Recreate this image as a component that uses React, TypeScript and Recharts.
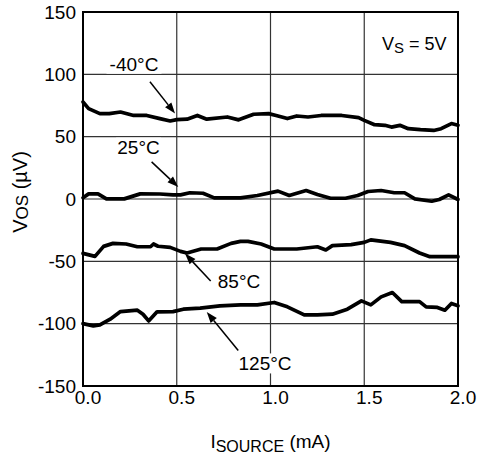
import React from "react";
import { LineChart, Line, XAxis, YAxis, CartesianGrid, ReferenceArea, ReferenceDot, ReferenceLine } from "recharts";

// I_SOURCE (mA) and V_OS (µV) for each temperature
const isrcNeg40 = [0, 0.03, 0.09, 0.14, 0.2, 0.27, 0.34, 0.41, 0.465, 0.5, 0.555, 0.61, 0.66, 0.77, 0.83, 0.91, 0.99, 1.03, 1.09, 1.14, 1.2, 1.27, 1.38, 1.47, 1.5, 1.555, 1.61, 1.645, 1.69, 1.735, 1.8, 1.87, 1.91, 1.965, 2.0];
const vosNeg40 = [77.8, 72.5, 68.5, 68.5, 69.8, 67, 67, 64.5, 62.6, 63.7, 64, 67, 64, 65.8, 63.5, 68, 68.5, 67, 64.5, 66.6, 65.8, 67, 67, 65.3, 63.1, 59.6, 59.1, 57.7, 59.1, 56.4, 55.6, 55, 56.4, 60.5, 59.1];

const isrc25 = [0, 0.03, 0.08, 0.125, 0.22, 0.305, 0.41, 0.48, 0.52, 0.57, 0.64, 0.7, 0.84, 0.93, 1.04, 1.1, 1.19, 1.25, 1.32, 1.4, 1.465, 1.52, 1.59, 1.66, 1.715, 1.77, 1.86, 1.9, 1.95, 2.0];
const vos25 = [1, 4.1, 4.1, 0.1, 0.1, 4.1, 4, 3.3, 3.3, 5, 4.6, 0.9, 0.9, 2.8, 6.3, 2.8, 6.8, 3.6, 0.6, 0.6, 2.8, 6, 6.8, 5, 5, 0.1, -1.8, -0.4, 3.3, -0.4];

const isrc85 = [0, 0.064, 0.11, 0.16, 0.23, 0.29, 0.36, 0.376, 0.4, 0.465, 0.52, 0.555, 0.63, 0.715, 0.79, 0.84, 0.88, 0.95, 1.02, 1.14, 1.25, 1.295, 1.33, 1.43, 1.5, 1.535, 1.64, 1.715, 1.795, 1.85, 2.0];
const vos85 = [-43.6, -46, -38, -35.6, -36.1, -38.3, -38.3, -36.1, -37.9, -38.8, -42, -43.3, -40.1, -40.1, -35.6, -34, -34, -36.1, -40.1, -40.1, -38.3, -40.9, -37.4, -36.6, -34.8, -32.8, -34.8, -37.4, -43.3, -46.3, -46.3];

const isrc125 = [0, 0.055, 0.09, 0.145, 0.2, 0.29, 0.32, 0.35, 0.395, 0.48, 0.535, 0.625, 0.73, 0.84, 0.93, 1.02, 1.09, 1.18, 1.25, 1.33, 1.41, 1.485, 1.535, 1.59, 1.65, 1.7, 1.795, 1.83, 1.89, 1.93, 1.965, 2.0];
const vos125 = [-100, -101.8, -101, -96.4, -90.3, -89.2, -92.4, -97.8, -90.5, -90.3, -88.4, -87.6, -85.7, -84.9, -84.9, -83, -86.5, -93, -93, -92.4, -88.4, -81.7, -84.9, -78.5, -75, -82.3, -82.3, -86.5, -87, -89.2, -83.8, -85.7];

const xTicks = [0, 0.5, 1.0, 1.5, 2.0];
const yTicks = [-150, -100, -50, 0, 50, 100, 150];

const seriesLabels = ["-40°C", "25°C", "85°C", "125°C"];
// label anchor [x, y] and arrow [tailX, tailY, tipX, tipY] in data units
const labelPos = [[0.272, 108.5], [0.296, 41.2], [0.832, -66], [0.971, -131.9]];
const arrowPos = [
  [0.357, 94, 0.491, 68.6],
  [0.366, 29.8, 0.508, 9.7],
  [0.681, -65.8, 0.544, -43.8],
  [0.828, -121.5, 0.66, -90.7],
];

const build = (xs: number[], ys: number[]) => xs.map((x, i) => ({ x, v: ys[i] }));
const series = [
  build(isrcNeg40, vosNeg40),
  build(isrc25, vos25),
  build(isrc85, vos85),
  build(isrc125, vos125),
];

const FONT = '"Liberation Sans", Arial, Helvetica, sans-serif';

const labelShape = (text: string) => (p: any) => {
  const w = text.length * 10.2 + 4;
  return (
    <g>
      <rect x={p.cx - w / 2} y={p.cy - 10} width={w} height={20} fill="#fff" />
      <text x={p.cx} y={p.cy} dy="0.36em" textAnchor="middle" fontSize={19} fontFamily={FONT} fill="#000">
        {text}
      </text>
    </g>
  );
};

const arrowShape = (p: any) => {
  const { x1, y1, x2, y2 } = p;
  const dx = x2 - x1;
  const dy = y2 - y1;
  const len = Math.sqrt(dx * dx + dy * dy);
  const ux = dx / len;
  const uy = dy / len;
  const hl = 11;
  const hw = 4;
  const bx = x2 - ux * hl;
  const by = y2 - uy * hl;
  const pts = `${x2},${y2} ${bx - uy * hw},${by + ux * hw} ${bx + uy * hw},${by - ux * hw}`;
  return (
    <g>
      <line x1={x1} y1={y1} x2={bx} y2={by} stroke="#000" strokeWidth={1.5} />
      <polygon points={pts} fill="#000" />
    </g>
  );
};

const vsShape = (p: any) => (
  <text x={p.cx} y={p.cy} fontSize={18} fontFamily={FONT} fill="#000">
    V<tspan fontSize={15} dy={3}>S</tspan>
    <tspan dy={-3}> = 5V</tspan>
  </text>
);

const XLabel = (props: any) => {
  const vb = props.viewBox || { x: 83, width: 375 };
  const cx = vb.x + vb.width / 2;
  return (
    <text x={cx} y={448} textAnchor="middle" fontSize={19} fontFamily={FONT} fill="#000">
      I<tspan fontSize={16} dy={4}>SOURCE</tspan>
      <tspan dy={-4}> (mA)</tspan>
    </text>
  );
};

const YLabel = () => (
  <text x={27} y={192} transform="rotate(-90, 27, 192)" textAnchor="middle" fontSize={20} fontFamily={FONT} fill="#000">
    V<tspan fontSize={17} dy={1}>OS</tspan>
    <tspan dy={-1}> (µV)</tspan>
  </text>
);

export default function App() {
  return (
    <div style={{ position: "absolute", left: 0, top: 0, width: 477, height: 454, background: "#fff" }}>
      <LineChart width={477} height={454} margin={{ top: 12, right: 19, bottom: 0, left: 0 }}>
        <CartesianGrid stroke="#333" strokeWidth={1.2} />
        <XAxis
          dataKey="x"
          type="number"
          domain={[0, 2]}
          ticks={xTicks}
          tickFormatter={(v: number) => v.toFixed(1)}
          allowDuplicatedCategory={false}
          axisLine={false}
          tickLine={false}
          tickSize={0}
          tickMargin={5}
          height={68}
          tick={{ fill: "#000", fontSize: 19, fontFamily: FONT, dx: 5 }}
          label={{ content: XLabel }}
        />
        <YAxis
          type="number"
          domain={[-150, 150]}
          ticks={yTicks}
          axisLine={false}
          tickLine={false}
          tickSize={0}
          tickMargin={7}
          width={83}
          tick={{ fill: "#000", fontSize: 19, fontFamily: FONT }}
          label={{ content: YLabel }}
        />
        {labelPos.map((lp, i) => (
          <ReferenceDot key={"l" + i} x={lp[0]} y={lp[1]} r={1} ifOverflow="visible" shape={labelShape(seriesLabels[i])} />
        ))}
        <ReferenceDot x={1.595} y={119.5} r={1} ifOverflow="visible" shape={vsShape} />
        {arrowPos.map((a, i) => (
          <ReferenceLine
            key={"a" + i}
            segment={[{ x: a[0], y: a[1] }, { x: a[2], y: a[3] }]}
            ifOverflow="visible"
            shape={arrowShape}
          />
        ))}
        {series.map((d, i) => (
          <Line
            key={"s" + i}
            data={d}
            dataKey="v"
            type="linear"
            stroke="#000"
            strokeWidth={3.7}
            strokeLinejoin="round"
            strokeLinecap="round"
            dot={false}
            activeDot={false}
            isAnimationActive={false}
          />
        ))}
        <ReferenceArea x1={0} x2={2} y1={-150} y2={150} fill="none" fillOpacity={0} stroke="#000" strokeWidth={2} ifOverflow="visible" />
      </LineChart>
    </div>
  );
}
